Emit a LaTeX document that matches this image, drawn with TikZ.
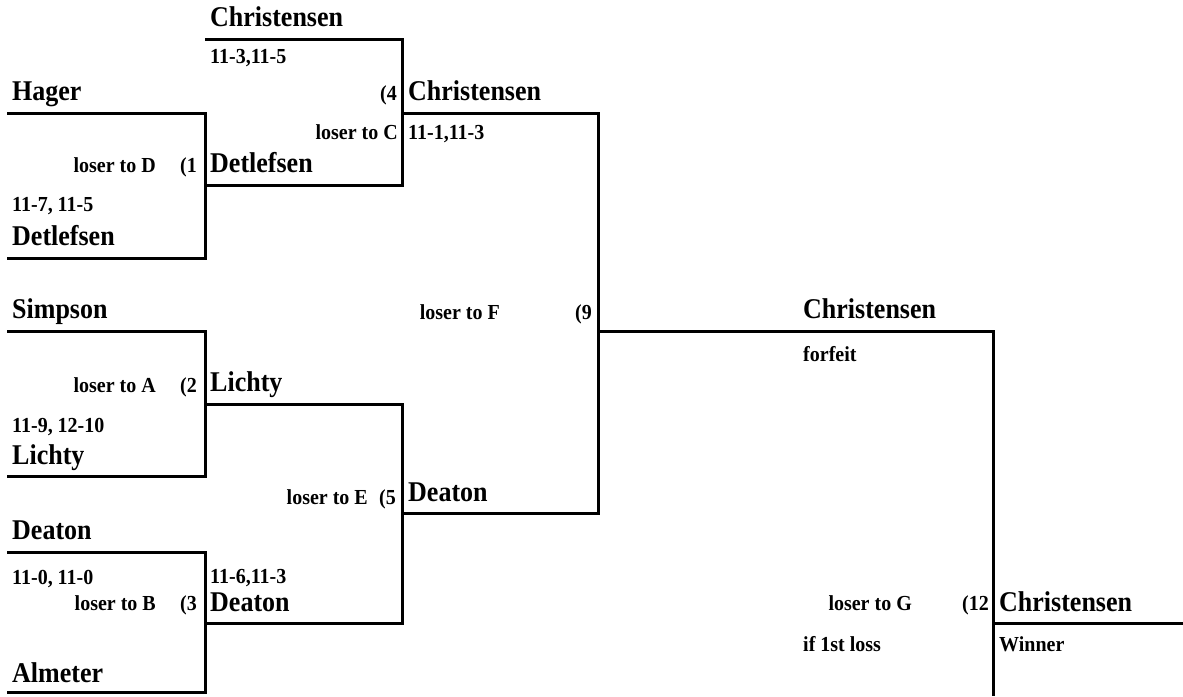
\documentclass[tikz,border=0pt]{standalone}
\usepackage{graphicx}
\usepackage{fontspec}
\setmainfont{Liberation Serif}
\newcommand\tallbig[1]{\scalebox{1}[1.1]{#1}}
\newcommand\tallsmall[1]{\scalebox{1}[1.07]{#1}}
\begin{document}
\begin{tikzpicture}[x=1pt,y=-1pt,
  pname/.style={anchor=base west, inner sep=0pt, font=\bfseries\fontsize{26}{30}\selectfont},
  note/.style={anchor=base west, inner sep=0pt, font=\bfseries\fontsize{20}{24}\selectfont},
  noter/.style={note, anchor=base east},
  bracket/.style={line width=3pt, line join=miter}]
\useasboundingbox (0,0) rectangle (1183,696);
% named corner coordinates
\coordinate (h1) at (7,113);   \coordinate (h2) at (205,113);
\coordinate (d1) at (7,258);   \coordinate (d2) at (205,258);
\coordinate (c1) at (205,39);  \coordinate (c2) at (402,39);
\coordinate (e1) at (205,185); \coordinate (e2) at (402,185);
\coordinate (f1) at (402,113); \coordinate (f2) at (598,113);
\coordinate (g1) at (402,513); \coordinate (g2) at (598,513);
\coordinate (s1) at (7,331);   \coordinate (s2) at (205,331);
\coordinate (l1) at (7,476);   \coordinate (l2) at (205,476);
\coordinate (m1) at (205,404); \coordinate (m2) at (402,404);
\coordinate (n1) at (205,623); \coordinate (n2) at (402,623);
\coordinate (p1) at (7,552);   \coordinate (p2) at (205,552);
\coordinate (q1) at (7,692);   \coordinate (q2) at (205,692);
\coordinate (r1) at (598,331); \coordinate (r2) at (993,331);
\coordinate (r3) at (993,696);
\coordinate (w1) at (993,623); \coordinate (w2) at (1183,623);
% brackets
\draw[bracket] (h1) -- (h2) -- (d2) -- (d1);
\draw[bracket] (c1) -- (c2) -- (e2) -- (e1);
\draw[bracket] (f1) -- (f2) -- (g2) -- (g1);
\draw[bracket] (s1) -- (s2) -- (l2) -- (l1);
\draw[bracket] (m1) -- (m2) -- (n2) -- (n1);
\draw[bracket] (p1) -- (p2) -- (q2) -- (q1);
\draw[bracket] (r1) -- (r2) -- (r3);
\draw[bracket] (w1) -- (w2);
% names
\node[pname] (t1) at (210,26) {\tallbig{Christensen}};
\node[pname] (t2) at (12,100) {\tallbig{Hager}};
\node[pname] (t3) at (408,100) {\tallbig{Christensen}};
\node[pname] (t4) at (210,172) {\tallbig{Detlefsen}};
\node[pname] (t5) at (12,245) {\tallbig{Detlefsen}};
\node[pname] (t6) at (12,318) {\tallbig{Simpson}};
\node[pname] (t7) at (803,318) {\tallbig{Christensen}};
\node[pname] (t8) at (210,391) {\tallbig{Lichty}};
\node[pname] (t9) at (12,464) {\tallbig{Lichty}};
\node[pname] (t10) at (408,501) {\tallbig{Deaton}};
\node[pname] (t11) at (12,539) {\tallbig{Deaton}};
\node[pname] (t12) at (210,611) {\tallbig{Deaton}};
\node[pname] (t13) at (999,611) {\tallbig{Christensen}};
\node[pname] (t14) at (12,682) {\tallbig{Almeter}};
% notes
\node[note] (s1n) at (210,63) {\tallsmall{11-3,11-5}};
\node[noter] (g4) at (397,100) {\tallsmall{(4}};
\node[noter] (lc) at (398,139) {\tallsmall{loser to C}};
\node[note] (s2n) at (408,139) {\tallsmall{11-1,11-3}};
\node[noter] (ld) at (156,172) {\tallsmall{loser to D}};
\node[noter] (g1n) at (197,172) {\tallsmall{(1}};
\node[note] (s3n) at (12,211) {\tallsmall{11-7, 11-5}};
\node[noter] (lf) at (500,319) {\tallsmall{loser to F}};
\node[noter] (g9) at (592,319) {\tallsmall{(9}};
\node[note] (ff) at (803,361) {\tallsmall{forfeit}};
\node[noter] (la) at (156,392) {\tallsmall{loser to A}};
\node[noter] (g2n) at (197,392) {\tallsmall{(2}};
\node[note] (s4n) at (12,432) {\tallsmall{11-9, 12-10}};
\node[noter] (le) at (368,504) {\tallsmall{loser to E}};
\node[noter] (g5) at (396,504) {\tallsmall{(5}};
\node[note] (s5n) at (12,584) {\tallsmall{11-0, 11-0}};
\node[note] (s6n) at (210,583) {\tallsmall{11-6,11-3}};
\node[noter] (lb) at (156,610) {\tallsmall{loser to B}};
\node[noter] (g3) at (197,610) {\tallsmall{(3}};
\node[noter] (lg) at (912,610) {\tallsmall{loser to G}};
\node[noter] (g12) at (989,610) {\tallsmall{(12}};
\node[note] (if1) at (803,651) {\tallsmall{if 1st loss}};
\node[note] (win) at (999,651) {\tallsmall{Winner}};
\end{tikzpicture}
\end{document}
